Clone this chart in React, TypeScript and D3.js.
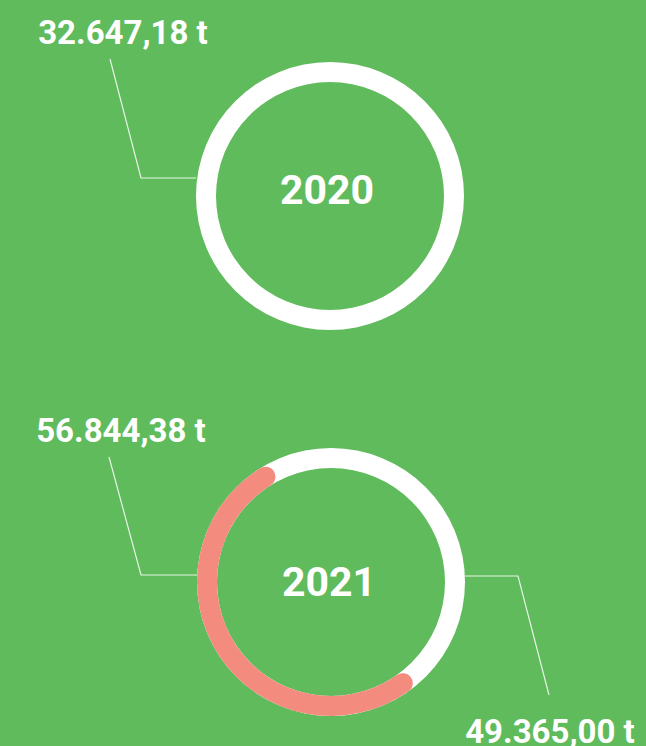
import React from "react";
import * as d3 from "d3";

// ---- data ----
const years = ["2020", "2021"];
const seriesNames = ["white", "red"];
const whiteValues = [32647.18, 49365.0];
const redValues = [0, 56844.38];

// ---- layout ----
const W = 646;
const H = 746;
const BG = "#5fbb5c";
const RED = "#f38b7f";
const centers = [
  { cx: 330, cy: 196 },
  { cx: 331, cy: 582 },
];
const yearTextOffset = [
  { dx: -3, dy: -6 },
  { dx: -2, dy: 0 },
];
const R_OUT = 134;
const R_IN = 114;
const startDeg = [0, -27.3];

type LabelLayout = { side: "left" | "right"; tx: number; ty: number; lx: number; ly: number; ex: number; ey: number };
const labelLayouts: Record<string, LabelLayout> = {
  "2020-white": { side: "left", tx: -207, ty: -152, lx: -220, ly: -137, ex: -189, ey: -18 },
  "2021-red": { side: "left", tx: -210, ty: -140, lx: -222, ly: -125, ex: -190, ey: -7 },
  "2021-white": { side: "right", tx: 219, ty: 161, lx: 218, ly: 113, ex: 187, ey: -6 },
};

const locale = d3.formatLocale({ decimal: ",", thousands: ".", grouping: [3], currency: ["", ""] });
const fmt = locale.format(",.2f");

export default function App() {
  const arcFull = d3.arc<any>().innerRadius(R_IN).outerRadius(R_OUT).startAngle(0).endAngle(2 * Math.PI);
  const arcRed = d3
    .arc<any>()
    .innerRadius(R_IN)
    .outerRadius(R_OUT)
    .cornerRadius((R_OUT - R_IN) / 2);

  return (
    <svg
      width={W}
      height={H}
      style={{ position: "absolute", left: 0, top: 0, display: "block" }}
      fontFamily="Roboto, 'Noto Sans', sans-serif"
    >
      <rect x={0} y={0} width={W} height={H} fill={BG} />
      {years.map((yr, i) => {
        const { cx, cy } = centers[i];
        const vals = [whiteValues[i], redValues[i]];
        const s = (startDeg[i] * Math.PI) / 180;
        const pie = d3
          .pie<number>()
          .sort(null)
          .value((d) => d)
          .startAngle(s)
          .endAngle(s + 2 * Math.PI);
        const arcs = pie(vals);
        return (
          <g key={yr}>
            <g transform={`translate(${cx},${cy})`}>
              <path d={arcFull({}) || ""} fill="#ffffff" />
              {arcs.map((a, j) =>
                seriesNames[j] === "red" && a.value > 0 ? (
                  <path key={j} d={arcRed(a) || ""} fill={RED} />
                ) : null
              )}
              <text
                x={yearTextOffset[i].dx}
                y={yearTextOffset[i].dy}
                textAnchor="middle"
                dominantBaseline="central"
                fill="#ffffff"
                fontWeight={700}
                fontSize={41}
              >
                {yr}
              </text>
            </g>
            {arcs.map((a, j) => {
              if (a.value <= 0) return null;
              const key = `${yr}-${seriesNames[j]}`;
              const L = labelLayouts[key];
              if (!L) return null;
              const edgeX = L.side === "left" ? -R_OUT : R_OUT;
              const pts: [number, number][] = [
                [cx + L.lx, cy + L.ly],
                [cx + L.ex, cy + L.ey],
                [cx + edgeX, cy + L.ey],
              ];
              return (
                <g key={key}>
                  <path
                    d={d3.line()(pts) || ""}
                    fill="none"
                    stroke="rgba(255,255,255,0.85)"
                    strokeWidth={1.2}
                  />
                  <text
                    x={cx + L.tx}
                    y={cy + L.ty}
                    textAnchor="middle"
                    fill="#ffffff"
                    fontWeight={700}
                    fontSize={33}
                  >
                    {fmt(a.value)} t
                  </text>
                </g>
              );
            })}
          </g>
        );
      })}
    </svg>
  );
}
